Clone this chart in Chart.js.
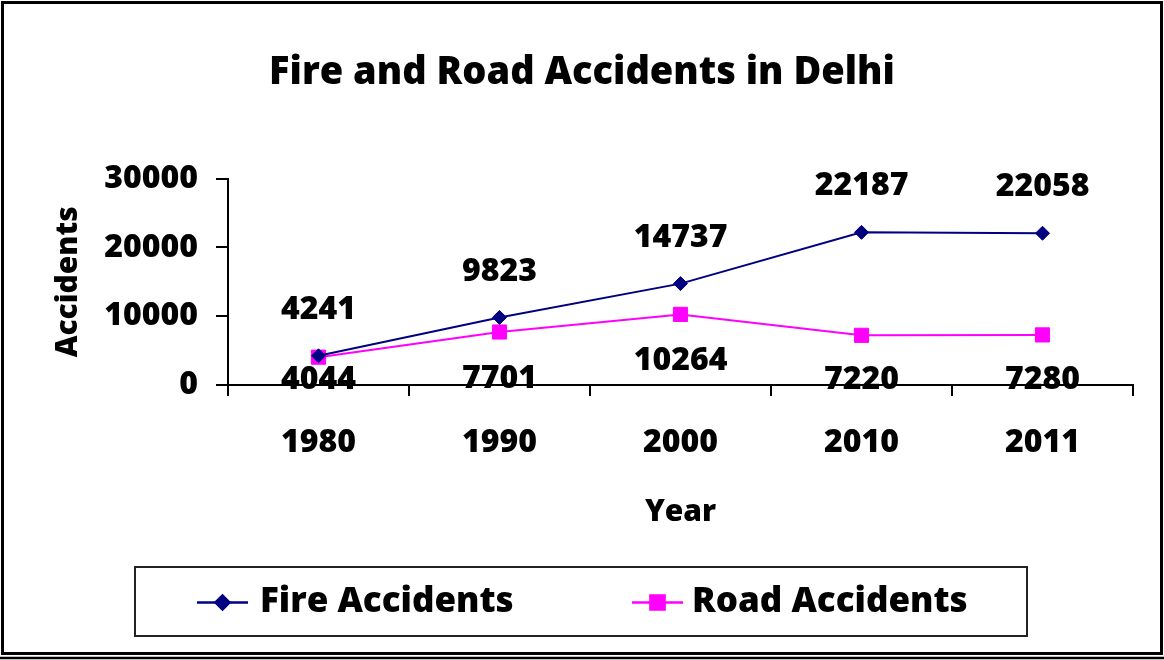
<!DOCTYPE html>
<html>
<head>
<meta charset="utf-8">
<title>Fire and Road Accidents in Delhi</title>
<script src="https://cdn.jsdelivr.net/npm/chart.js@4.4.1/dist/chart.umd.min.js"></script>
<style>
  body { margin: 0; background: #fff; }
  #wrap { width: 1164px; height: 660px; }
</style>
</head>
<body>
<div id="wrap"><canvas id="accChart" width="1164" height="660"></canvas></div>
<script>
// data
const years = ['1980', '1990', '2000', '2010', '2011'];
const fireAccidents = [4241, 9823, 14737, 22187, 22058];
const roadAccidents = [4044, 7701, 10264, 7220, 7280];
const yTicks = [0, 10000, 20000, 30000];

const FONT = "'Open Sans', 'Noto Sans', sans-serif";
const fireColor = '#000080';
const roadColor = '#ff00ff';

// border round the whole picture
const framePlugin = {
    id: 'frame',
    beforeDraw(chart) {
        const ctx = chart.ctx;
        ctx.save();
        ctx.fillStyle = '#fff';
        ctx.fillRect(0, 0, chart.width, chart.height);
        ctx.restore();
    },
    afterDraw(chart) {
        const ctx = chart.ctx;
        ctx.save();
        ctx.strokeStyle = '#000';
        ctx.lineWidth = 3;
        ctx.strokeRect(2.5, 2.5, chart.width - 5, 651);
        ctx.lineWidth = 2.5;
        ctx.beginPath();
        ctx.moveTo(0, 658);
        ctx.lineTo(chart.width, 658);
        ctx.stroke();
        ctx.restore();
    }
};

// value labels: fire above the points, road below
const valueLabels = {
    id: 'valueLabels',
    afterDatasetsDraw(chart) {
        const ctx = chart.ctx;
        const bottom = chart.chartArea.bottom;
        ctx.save();
        ctx.font = '800 32px ' + FONT;
        ctx.fillStyle = '#000';
        ctx.textAlign = 'center';
        ctx.textBaseline = 'middle';
        chart.data.datasets.forEach((ds, i) => {
            const meta = chart.getDatasetMeta(i);
            meta.data.forEach((pt, j) => {
                let y;
                if (i === 0) y = pt.y - 46;
                else y = Math.min(pt.y + 47, bottom - 5);
                ctx.fillText(String(ds.data[j]), pt.x, y);
            });
        });
        ctx.restore();
    }
};

// boxed legend under the chart, line + marker samples
const boxLegend = {
    id: 'boxLegend',
    afterDraw(chart) {
        const ctx = chart.ctx;
        const box = { left: 135, top: 567, right: 1027, bottom: 636 };
        const starts = [197, 632];
        const textGap = [63, 60];
        const midY = (box.top + box.bottom) / 2 + 1;
        ctx.save();
        ctx.strokeStyle = '#222';
        ctx.lineWidth = 2;
        ctx.strokeRect(box.left, box.top, box.right - box.left, box.bottom - box.top);
        chart.data.datasets.forEach((ds, i) => {
            const x0 = starts[i];
            ctx.strokeStyle = ds.borderColor;
            ctx.lineWidth = 2.5;
            ctx.beginPath();
            ctx.moveTo(x0, midY);
            ctx.lineTo(x0 + 51, midY);
            ctx.stroke();
            ctx.fillStyle = ds.backgroundColor;
            ctx.strokeStyle = ds.borderColor;
            Chart.helpers.drawPoint(ctx, {
                pointStyle: ds.pointStyle,
                radius: ds.pointRadius,
                borderWidth: 1
            }, x0 + 25.5, midY);
            ctx.fillStyle = '#000';
            ctx.font = '800 35px ' + FONT;
            ctx.textAlign = 'left';
            ctx.textBaseline = 'middle';
            ctx.fillText(ds.label, x0 + textGap[i], midY);
        });
        ctx.restore();
    }
};

const ctx = document.getElementById('accChart').getContext('2d');
const accChart = new Chart(ctx, {
    type: 'line',
    data: {
        labels: years,
        datasets: [{
            label: 'Fire Accidents',
            data: fireAccidents,
            borderColor: fireColor,
            backgroundColor: fireColor,
            borderWidth: 2,
            pointStyle: 'rectRot',
            pointRadius: 7,
            pointBorderWidth: 1,
            tension: 0
        }, {
            label: 'Road Accidents',
            data: roadAccidents,
            borderColor: roadColor,
            backgroundColor: roadColor,
            borderWidth: 2,
            pointStyle: 'rect',
            pointRadius: 10,
            pointBorderWidth: 1,
            tension: 0
        }]
    },
    options: {
        responsive: false,
        animation: false,
        layout: { padding: { left: 31, right: 31, top: 0, bottom: 130 } },
        plugins: {
            legend: { display: false },
            tooltip: { enabled: false },
            title: {
                display: true,
                text: 'Fire and Road Accidents in Delhi',
                color: '#000',
                font: { family: FONT, size: 38, weight: 800, lineHeight: 1.2 },
                padding: { top: 50, bottom: 83 }
            }
        },
        scales: {
            x: {
                offset: true,
                grid: { offset: true, drawOnChartArea: false, drawTicks: true, tickLength: 11, color: '#000', lineWidth: 2 },
                border: { display: true, color: '#000', width: 2 },
                ticks: { color: '#000', padding: 28, maxRotation: 0, font: { family: FONT, size: 32, weight: 800 } },
                title: {
                    display: true, text: 'Year', color: '#000',
                    font: { family: FONT, size: 30, weight: 800, lineHeight: 1.2 },
                    padding: { top: 0, bottom: 0 }
                },
                afterFit(scale) { scale.height = 145; }
            },
            y: {
                min: 0,
                max: 30000,
                afterBuildTicks(scale) { scale.ticks = yTicks.map(v => ({ value: v })); },
                grid: { drawOnChartArea: false, drawTicks: true, tickLength: 12, color: '#000', lineWidth: 2 },
                border: { display: true, color: '#000', width: 2 },
                ticks: {
                    color: '#000', padding: 18,
                    font: { family: FONT, size: 32, weight: 800 },
                    callback: v => String(v)
                },
                title: {
                    display: true, text: 'Accidents', color: '#000',
                    font: { family: FONT, size: 30, weight: 800, lineHeight: 1.2 },
                    padding: { top: 19, bottom: 0 }
                },
                afterFit(scale) { scale.width = 197; }
            }
        }
    },
    plugins: [framePlugin, valueLabels, boxLegend]
});
</script>
</body>
</html>
